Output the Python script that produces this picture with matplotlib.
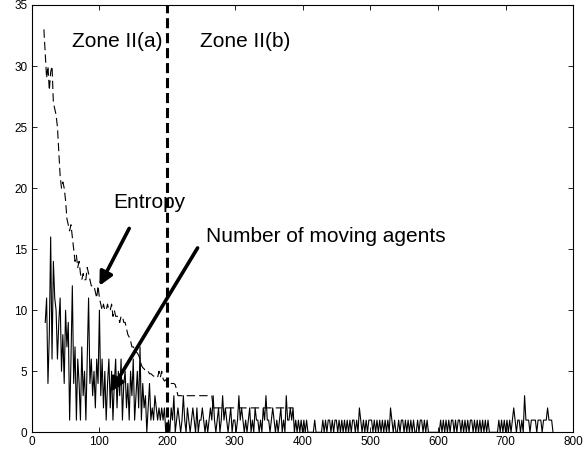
import matplotlib
matplotlib.use("Agg")
import matplotlib.pyplot as plt
import numpy as np

plt.rcParams['font.family'] = ['Liberation Sans', 'DejaVu Sans']

# ---- data ----
agents_x_start = 20
agents_x_step = 2
agents_early = [9, 11, 4, 8, 16, 6, 14, 11, 10, 6, 9, 11, 5, 8, 4, 10, 7, 9, 1, 6,
                12, 4, 7, 1, 6, 4, 1, 7, 3, 5, 1, 6, 11, 4, 6, 3, 5, 2, 6, 4,
                10, 3, 6, 2, 5, 1, 4, 6, 2, 5, 1, 4, 6, 2, 5, 3, 6, 1, 4, 5,
                2, 4, 1, 5, 3, 6, 1, 3, 5, 2, 7, 1, 4, 2, 3, 0, 2, 4, 1, 2,
                1, 3, 2, 1, 2, 1, 2, 1, 2, 0]
agents_late_digits = ("0102130121" "0131021012" "1020112101" "0121310120"
                      "1312101201" "1013121010" "1201021101" "0213110121"
                      "0101201031" "1212010101" "0101000001" "0000010101"
                      "1010110101" "0101010110" "1021010101" "1101010101"
                      "0101021010" "0101101010" "1010010110" "1010000000"
                      "0010101010" "1101011010" "1010110101" "0101010100"
                      "0000010101" "0101012101" "1010311101" "1110111011"
                      "121110")
agents = agents_early + [int(c) for c in agents_late_digits]

entropy_x_start = 18
entropy_x_step = 2
entropy = [33, 31, 29, 30, 28, 29.5, 30, 27, 26.5, 26, 25, 23, 21, 20, 20.5, 20,
           19, 17.5, 17, 16.5, 17, 16, 15, 14, 14.5, 13.5, 14, 13, 12.5, 13,
           12.5, 12.5, 13.5, 13, 12.5, 12, 12, 12, 11.5, 11, 12, 11,
           10.5, 10, 10.5, 10, 10, 10.5, 10, 10, 10.5, 9.5, 10, 9.5, 9.5, 9.5,
           9, 9.5, 9.5, 9, 9, 8.5, 8, 7.8, 7.5, 7, 7, 6.8, 6.6, 6.5, 6.3, 6,
           5.5, 5.3, 5.2, 5, 5, 5, 4.8, 4.8, 4.7, 4.6, 4.6, 4.5, 4.5, 5, 4.5,
           5, 4.4, 4.2, 4.3, 4.1, 4, 4, 4, 4, 4, 3.9, 3.5,
           3, 3, 3, 3, 3, 3, 3, 3, 3, 3, 3, 3, 3, 3, 3, 3, 3, 3, 3, 3, 3, 3, 3, 3, 3, 3,
           2, 2, 2, 2, 2, 2, 2, 2, 2, 2, 2, 2, 2, 2, 2, 2, 2, 2, 2, 2, 2, 2, 2, 2, 2,
           2, 2, 2, 2, 2, 2, 2, 2, 2, 2, 2, 2, 2, 2, 2, 2, 2, 2, 2, 2, 2, 2, 2, 2, 2,
           2, 2, 2, 2, 2, 2, 2, 2, 2, 2]

zone_boundary = 200
xticks = [0, 100, 200, 300, 400, 500, 600, 700, 800]
yticks = [0, 5, 10, 15, 20, 25, 30, 35]

agents_x = agents_x_start + agents_x_step * np.arange(len(agents))
entropy_x = entropy_x_start + entropy_x_step * np.arange(len(entropy))

fig = plt.figure(figsize=(5.84, 4.5), dpi=100)
ax = fig.add_axes([0.0543, 0.0393, 0.9274, 0.9496])

ax.plot(agents_x, agents, color='black', lw=0.8)
ax.plot(entropy_x, entropy, color='black', lw=0.8, linestyle=(0, (7.5, 3.75)))
ax.plot([zone_boundary, zone_boundary], [0, 35], color='black', lw=2.2,
        linestyle=(0, (3.3, 1.6)))

ax.set_xlim(0, 800)
ax.set_ylim(0, 35)
ax.set_xticks(xticks)
ax.set_yticks(yticks)
ax.tick_params(direction='in', top=True, right=True, length=3.5, width=0.6,
               labelsize=8.5, pad=3)
for s in ax.spines.values():
    s.set_linewidth(0.8)

ax.text(60, 32.0, 'Zone II(a)', fontsize=15, va='center', ha='left')
ax.text(248, 32.0, 'Zone II(b)', fontsize=15, va='center', ha='left')

arrow = dict(arrowstyle='-|>', lw=2.6, color='black', mutation_scale=20,
             shrinkA=0, shrinkB=0)
ax.annotate('', xy=(100, 12.0), xytext=(144, 16.7), arrowprops=arrow)
ax.text(120, 18.8, 'Entropy', fontsize=15, va='center', ha='left')
ax.annotate('', xy=(116, 3.3), xytext=(245, 15.1), arrowprops=arrow)
ax.text(257, 16.0, 'Number of moving agents', fontsize=15, va='center', ha='left')

fig.savefig('out.png', dpi=100)
